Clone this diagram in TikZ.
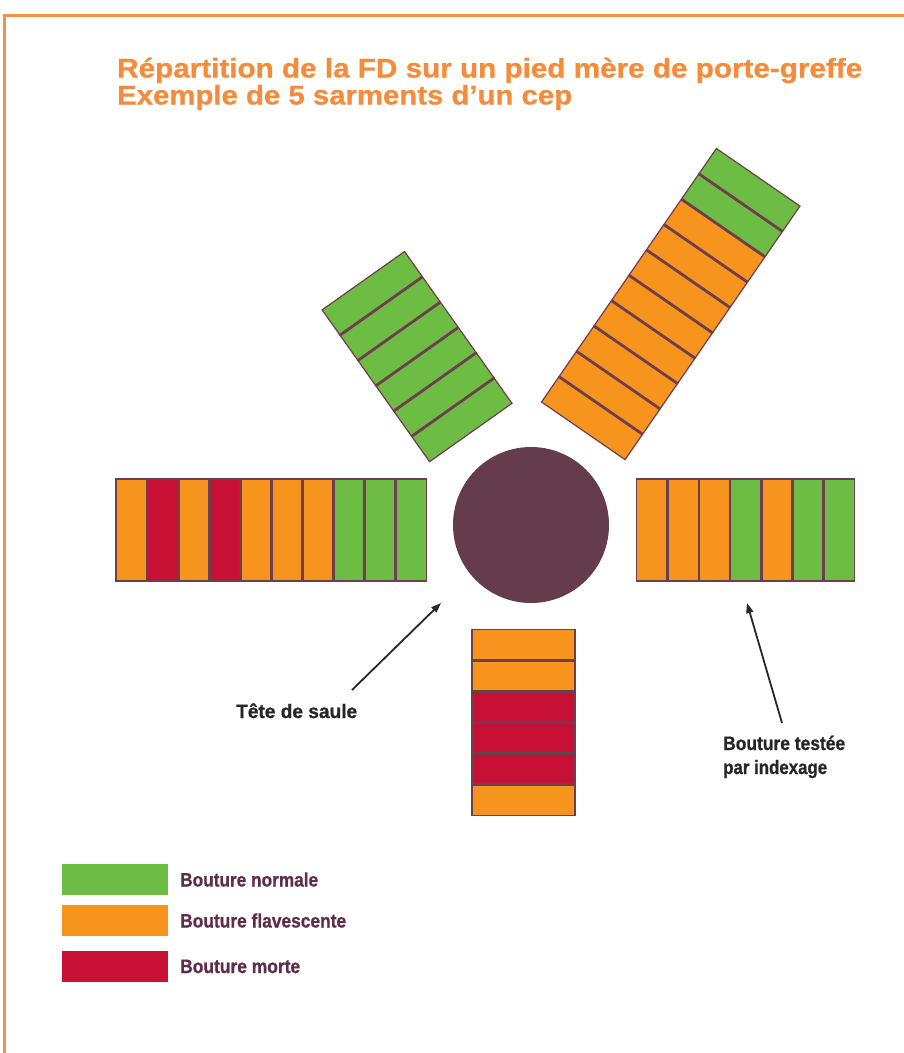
\documentclass[tikz,border=0pt]{standalone}
\usepackage{fontspec}
\setmainfont{Liberation Sans}
\newfontfamily\heavysans[FakeBold=0.8]{Liberation Sans Bold}
\usepackage{graphicx}
\usetikzlibrary{arrows.meta}
\definecolor{cgreen}{RGB}{109,189,69}
\definecolor{corange}{RGB}{247,148,29}
\definecolor{cred}{RGB}{200,16,52}
\definecolor{cdiv}{RGB}{110,62,78}
\definecolor{chead}{RGB}{100,60,76}
\definecolor{cleg}{RGB}{95,45,72}
\definecolor{cframe}{RGB}{245,145,65}
\definecolor{ctitle}{RGB}{245,140,60}
\definecolor{carrow}{RGB}{40,40,40}
\newcommand{\fitw}[2]{\resizebox{#1}{\height}{#2}}
\newcommand{\sarment}[5]{%
  \begin{scope}[shift={#1},rotate=#2]
    \foreach \c [count=\i] in {#5} {
      \fill[\c] ({(\i-1)*#3},{-#4/2}) rectangle ({\i*#3},{#4/2});
    }
    \foreach \c [count=\i] in {#5} {
      \draw[cdiv, line width=1.2pt] ({(\i-1)*#3},{-#4/2}) rectangle ({\i*#3},{#4/2});
      \ifnum\i>1
        \draw[cdiv, line width=2.8pt] ({(\i-1)*#3},{-#4/2}) -- ({(\i-1)*#3},{#4/2});
      \fi
    }
  \end{scope}}
\tikzset{
  titletext/.style={text=ctitle, font=\heavysans\fontsize{27}{30}\selectfont, inner sep=0pt, anchor=base west},
  labeltext/.style={text=black!85, font=\heavysans\fontsize{19.5}{22}\selectfont, inner sep=0pt, anchor=base west},
  legtext/.style={text=cleg, font=\heavysans\fontsize{19.5}{22}\selectfont, inner sep=0pt, anchor=base west},
  legbox/.style={inner sep=0pt, minimum width=106pt, minimum height=31pt, anchor=north west},
  arr/.style={draw=carrow, line width=1.8pt, -{Triangle[length=10pt,width=7pt]}},
  frame/.style={draw=cframe, line width=3pt}
}
\begin{document}
\begin{tikzpicture}[x=1pt,y=-1pt]
\useasboundingbox (0,0) rectangle (904,1053);
\fill[white] (0,0) rectangle (904,1053);
% frame
\draw[frame] (4,1053) -- (4,15) -- (904,15);
% title
\node[titletext] (title1) at (117,77.5) {\fitw{745pt}{Répartition de la FD sur un pied mère de porte-greffe}};
\node[titletext] (title2) at (117,104.5) {\fitw{455pt}{Exemple de 5 sarments d’un cep}};
% bars
\sarment{(470.8,432.5)}{125.3}{31}{101}{cgreen,cgreen,cgreen,cgreen,cgreen,cgreen}
\sarment{(583.3,430.8)}{55.4}{30.8}{101.5}{corange,corange,corange,corange,corange,corange,corange,corange,cgreen,cgreen}
\sarment{(426.5,530)}{180}{31.05}{102}{cgreen,cgreen,cgreen,corange,corange,corange,cred,corange,cred,corange}
\sarment{(636.7,530)}{0}{31.1}{102}{corange,corange,corange,cgreen,corange,cgreen,cgreen}
\sarment{(523.5,629.5)}{-90}{30.95}{103}{corange,corange,cred,cred,cred,corange}
% head
\node[circle, fill=chead, minimum size=156pt, inner sep=0pt] (tete) at (531,525) {};
% labels and arrows
\node[labeltext] (lsaule) at (236,718) {\fitw{121pt}{Tête de saule}};
\node[labeltext] (ltest1) at (723,750) {\fitw{122pt}{Bouture testée}};
\node[labeltext] (ltest2) at (723,774) {\fitw{104pt}{par indexage}};
\coordinate (saulefrom) at (352,690);
\coordinate (sauleto) at (441,603);
\coordinate (testfrom) at (782,723);
\coordinate (testto) at (747,603);
\draw[arr] (saulefrom) -- (sauleto);
\draw[arr] (testfrom) -- (testto);
% legend
\node[legbox, fill=cgreen] (lgreen) at (62,864) {};
\node[legbox, fill=corange] (lorange) at (62,905) {};
\node[legbox, fill=cred] (lred) at (62,951) {};
\node[legtext] (tgreen) at (180,886.5) {\fitw{138pt}{Bouture normale}};
\node[legtext] (torange) at (180,927.5) {\fitw{166pt}{Bouture flavescente}};
\node[legtext] (tred) at (180,973) {\fitw{120pt}{Bouture morte}};
\end{tikzpicture}
\end{document}
